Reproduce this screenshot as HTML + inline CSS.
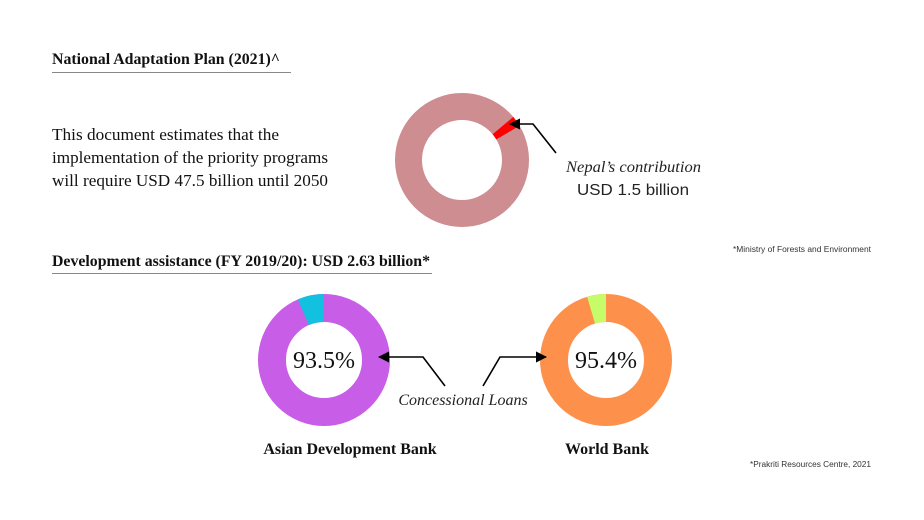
<!DOCTYPE html>
<html><head><meta charset="utf-8"><style>
body{margin:0;background:#fff;}
svg{display:block;}
</style></head><body>
<svg width="924" height="520" viewBox="0 0 924 520" xmlns="http://www.w3.org/2000/svg">
<defs>
<marker id="ah" viewBox="0 0 10 10" refX="9" refY="5" markerWidth="7" markerHeight="7" orient="auto-start-reverse"><path d="M0,0 L10,5 L0,10 z" fill="#000"/></marker>
</defs>
<g font-family="Liberation Serif, serif" fill="#111">
<text x="52" y="64" font-size="16" font-weight="bold" textLength="228" lengthAdjust="spacingAndGlyphs">National Adaptation Plan (2021)^</text>
<line x1="52" y1="72.5" x2="291" y2="72.5" stroke="#888" stroke-width="1"/>
<text x="52" y="140" font-size="17" textLength="227" lengthAdjust="spacingAndGlyphs">This document estimates that the</text>
<text x="52" y="163" font-size="17" textLength="276" lengthAdjust="spacingAndGlyphs">implementation of the priority programs</text>
<text x="52" y="186" font-size="17" textLength="276" lengthAdjust="spacingAndGlyphs">will require USD 47.5 billion until 2050</text>
<text x="52" y="266" font-size="16" font-weight="bold" textLength="378" lengthAdjust="spacingAndGlyphs">Development assistance (FY 2019/20): USD 2.63 billion*</text>
<line x1="52" y1="273.5" x2="432" y2="273.5" stroke="#888" stroke-width="1"/>
</g>
<!-- top donut -->
<circle cx="462" cy="160" r="53.5" fill="none" stroke="#cd8d91" stroke-width="27"/>
<path d="M513.3,116.9 A67,67 0 0 1 519.5,125.8 L496.3,139.4 A40,40 0 0 0 492.6,134.3 Z" fill="#f00"/>
<polyline points="556,153 533,124 510,124" fill="none" stroke="#000" stroke-width="1.6" marker-end="url(#ah)"/>
<text x="566" y="172" font-family="Liberation Serif, serif" font-style="italic" font-size="16" fill="#222" textLength="135" lengthAdjust="spacingAndGlyphs">Nepal’s contribution</text>
<text x="577" y="195" font-family="Liberation Sans, sans-serif" font-size="16" fill="#222" textLength="112" lengthAdjust="spacingAndGlyphs">USD 1.5 billion</text>
<text x="733" y="252" font-family="Liberation Sans, sans-serif" font-size="8" fill="#333" textLength="138" lengthAdjust="spacingAndGlyphs">*Ministry of Forests and Environment</text>
<!-- ADB -->
<circle cx="324" cy="360" r="52" fill="none" stroke="#c85de8" stroke-width="28"/>
<path d="M297.8,299.4 A66,66 0 0 1 324,294 L324,322 A38,38 0 0 0 308.9,325.1 Z" fill="#12c0df"/>
<text x="324" y="368" text-anchor="middle" font-family="Liberation Serif, serif" font-size="24" fill="#111">93.5%</text>
<!-- WB -->
<circle cx="606" cy="360" r="52" fill="none" stroke="#fd914c" stroke-width="28"/>
<path d="M587.1,296.8 A66,66 0 0 1 606,294 L606,322 A38,38 0 0 0 595.1,323.6 Z" fill="#c6fb6a"/>
<text x="606" y="368" text-anchor="middle" font-family="Liberation Serif, serif" font-size="24" fill="#111">95.4%</text>
<polyline points="445,386 423,357 379,357" fill="none" stroke="#000" stroke-width="1.6" marker-end="url(#ah)"/>
<polyline points="483,386 500,357 546,357" fill="none" stroke="#000" stroke-width="1.6" marker-end="url(#ah)"/>
<text x="463" y="405" text-anchor="middle" font-family="Liberation Serif, serif" font-style="italic" font-size="16" fill="#222">Concessional Loans</text>
<text x="350" y="454" text-anchor="middle" font-family="Liberation Serif, serif" font-weight="bold" font-size="16" fill="#111">Asian Development Bank</text>
<text x="607" y="454" text-anchor="middle" font-family="Liberation Serif, serif" font-weight="bold" font-size="16" fill="#111">World Bank</text>
<text x="750" y="467" font-family="Liberation Sans, sans-serif" font-size="8" fill="#333" textLength="121" lengthAdjust="spacingAndGlyphs">*Prakriti Resources Centre, 2021</text>
</svg>
</body></html>
